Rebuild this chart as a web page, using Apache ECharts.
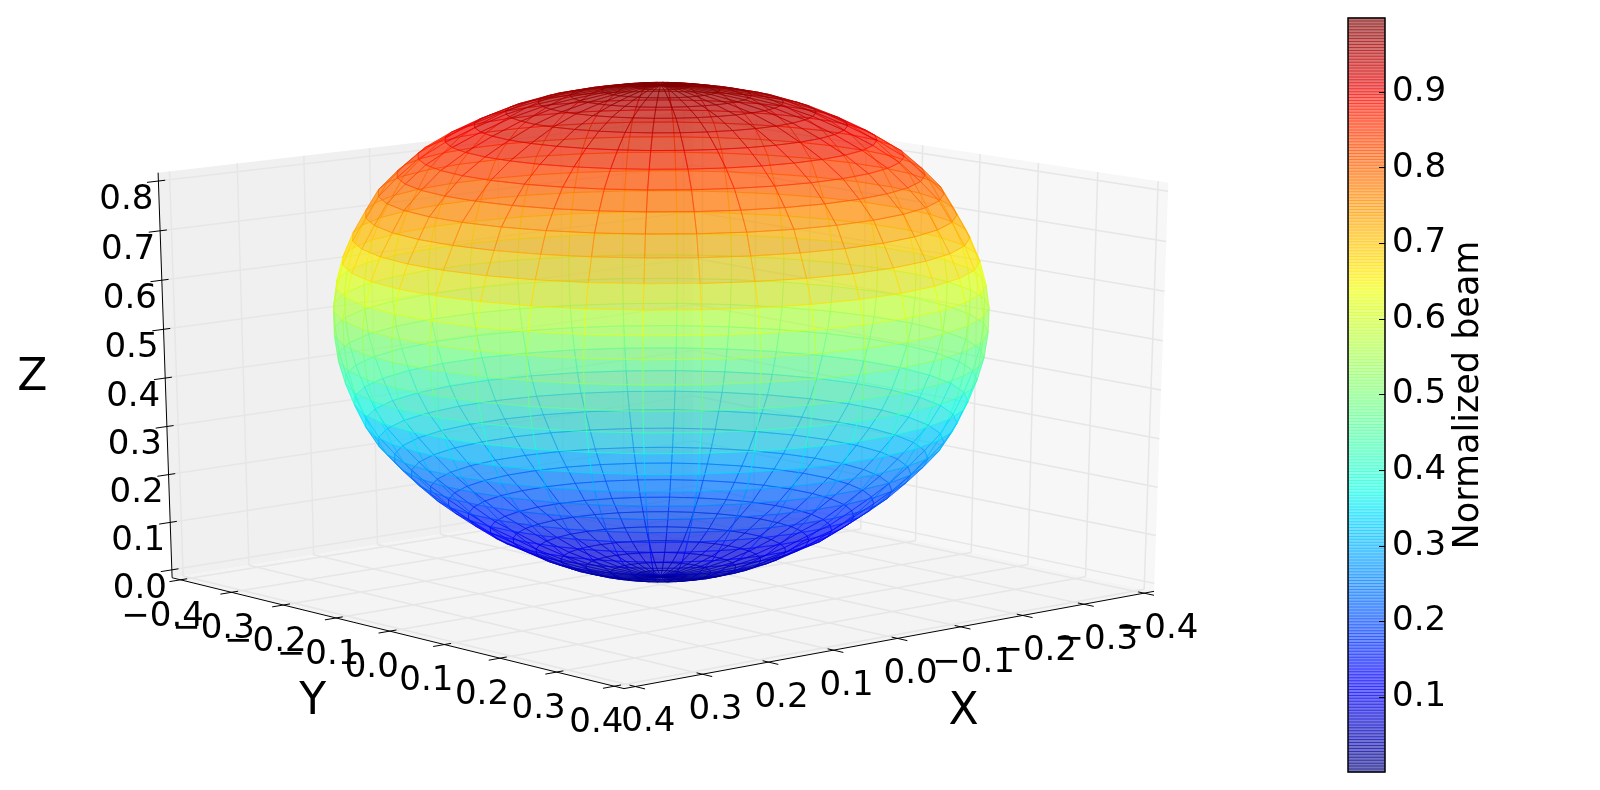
<!DOCTYPE html>
<html>
<head>
<meta charset="utf-8">
<style>
  html, body { margin: 0; padding: 0; background: #fff; }
  #main { width: 1600px; height: 790px; }
</style>
<script src="https://cdn.jsdelivr.net/npm/echarts@6/dist/echarts.min.js"></script>
</head>
<body>
<div id="main"></div>
<script>
// tick labels
const xTicks = [-0.4, -0.3, -0.2, -0.1, 0.0, 0.1, 0.2, 0.3, 0.4]
const yTicks = [-0.4, -0.3, -0.2, -0.1, 0.0, 0.1, 0.2, 0.3, 0.4]
const zTicks = [0.0, 0.1, 0.2, 0.3, 0.4, 0.5, 0.6, 0.7, 0.8]
const colorbarTicks = [0.1, 0.2, 0.3, 0.4, 0.5, 0.6, 0.7, 0.8, 0.9]

// surface rings, top pole to bottom pole
const ringZ = [1.0, 0.998, 0.99, 0.98, 0.967, 0.9475, 0.922, 0.894, 0.862, 0.826, 0.789, 0.747, 0.7015, 0.654, 0.6065, 0.561, 0.5115, 0.4596, 0.4143, 0.37, 0.325, 0.2854, 0.251, 0.218, 0.184, 0.157, 0.129, 0.1, 0.078, 0.0548, 0.0352, 0.0203, 0.0092, 0.0025, 0.0]
const ringR = [0, 0.0338, 0.0684, 0.1049, 0.1421, 0.18, 0.2167, 0.2511, 0.2828, 0.3077, 0.3299, 0.3453, 0.361, 0.3733, 0.381, 0.3851, 0.3846, 0.3805, 0.3729, 0.3628, 0.3503, 0.3354, 0.3168, 0.297, 0.2747, 0.2535, 0.2299, 0.2039, 0.1766, 0.1493, 0.1195, 0.0897, 0.0598, 0.0299, 0]
const meridianDeg = [6, 16, 26, 36, 46, 56, 66, 76, 86, 96, 106, 116, 126, 136, 146, 156, 166, 176, 186, 196, 206, 216, 226, 236, 246, 256, 266, 276, 286, 296, 306, 316, 326, 336, 346, 356]

// axis limits
const xLim = [-0.4167, 0.4167]
const yLim = [-0.4167, 0.4167]
const zLim = [-0.0167, 0.8167]
const colorbarLim = [0.001, 0.998]

// camera, same model as mplot3d
const ELEV = 16.5 * Math.PI / 180
const AZIM = 49 * Math.PI / 180
const DIST = 10
const FONT = '"DejaVu Sans"'

function project(x, y, z) {
  const cx = (x - xLim[0]) / (xLim[1] - xLim[0]) - 0.5
  const cy = (y - yLim[0]) / (yLim[1] - yLim[0]) - 0.5
  const cz = (z - zLim[0]) / (zLim[1] - zLim[0]) - 0.5
  const sa = Math.sin(AZIM), ca = Math.cos(AZIM), se = Math.sin(ELEV), ce = Math.cos(ELEV)
  const d = DIST - (ce * ca * cx + ce * sa * cy + se * cz)
  const u = (-sa * cx + ca * cy) / d
  const v = (-se * ca * cx - se * sa * cy + ce * cz) / d
  return [u, v, d]
}

// jet colormap
function ramp(pts, t) {
  for (let i = 1; i < pts.length; i++) {
    if (t <= pts[i][0]) {
      const a = pts[i - 1], b = pts[i]
      return a[1] + (b[1] - a[1]) * (t - a[0]) / (b[0] - a[0])
    }
  }
  return pts[pts.length - 1][1]
}
function jet(t, alpha) {
  const r = ramp([[0, 0], [0.35, 0], [0.66, 1], [0.89, 1], [1, 0.5]], t)
  const g = ramp([[0, 0], [0.125, 0], [0.375, 1], [0.64, 1], [0.91, 0], [1, 0]], t)
  const b = ramp([[0, 0.5], [0.11, 1], [0.34, 1], [0.65, 0], [1, 0]], t)
  return `rgba(${Math.round(r * 255)},${Math.round(g * 255)},${Math.round(b * 255)},${alpha})`
}

// surface cells, far ones first so they get painted over
const cells = []
for (let i = 0; i < ringZ.length - 1; i++) {
  for (let j = 0; j < meridianDeg.length; j++) {
    const a = meridianDeg[j] * Math.PI / 180
    const r = (ringR[i] + ringR[i + 1]) / 2, z = (ringZ[i] + ringZ[i + 1]) / 2
    cells.push([i, j, project(r * Math.cos(a + 0.087), r * Math.sin(a + 0.087), z)[2]])
  }
}
cells.sort((p, q) => q[2] - p[2])

const cbLevels = []
for (let i = 0; i < 256; i++) cbLevels.push(i)

function ringPoint(i, j) {
  const a = meridianDeg[j % meridianDeg.length] * Math.PI / 180
  return project(ringR[i] * Math.cos(a), ringR[i] * Math.sin(a), ringZ[i])
}

function polygon(api, pts, style) {
  return { type: 'polygon', shape: { points: pts.map(p => api.coord([p[0], p[1]])) }, style: style }
}
function line(api, p, q, stroke, width) {
  const a = api.coord([p[0], p[1]]), b = api.coord([q[0], q[1]])
  return { type: 'line', shape: { x1: a[0], y1: a[1], x2: b[0], y2: b[1] }, style: { stroke: stroke, lineWidth: width, fill: null } }
}

// the three panes behind the surface
function renderPanes(params, api) {
  const [x0, x1] = xLim, [y0, y1] = yLim, [z0, z1] = zLim
  const panes = [
    { pts: [[x1, y0, z0], [x0, y0, z0], [x0, y0, z1], [x1, y0, z1]], fill: '#f0f0f0' },
    { pts: [[x0, y0, z0], [x0, y1, z0], [x0, y1, z1], [x0, y0, z1]], fill: '#f7f7f7' },
    { pts: [[x0, y0, z0], [x1, y0, z0], [x1, y1, z0], [x0, y1, z0]], fill: '#f4f4f4' }
  ]
  const p = panes[params.dataIndex]
  return polygon(api, p.pts.map(q => project(q[0], q[1], q[2])), { fill: p.fill })
}

function renderGrid(params, api) {
  const [x0, x1] = xLim, [y0, y1] = yLim, [z0, z1] = zLim
  const c = '#e6e6e6', w = 1.5
  const out = []
  xTicks.forEach(t => {
    out.push(line(api, project(t, y0, z1), project(t, y0, z0), c, w))
    out.push(line(api, project(t, y0, z0), project(t, y1, z0), c, w))
  })
  yTicks.forEach(t => {
    out.push(line(api, project(x0, t, z1), project(x0, t, z0), c, w))
    out.push(line(api, project(x0, t, z0), project(x1, t, z0), c, w))
  })
  zTicks.forEach(t => {
    out.push(line(api, project(x1, y0, t), project(x0, y0, t), c, w))
    out.push(line(api, project(x0, y0, t), project(x0, y1, t), c, w))
  })
  return { type: 'group', children: out }
}

function renderAxes(params, api) {
  const [x0, x1] = xLim, [y0, y1] = yLim, [z0, z1] = zLim
  const k = '#000', out = []
  const tickOut = 0.02, tickIn = 0.012
  const dx = x1 - x0, dy = y1 - y0
  out.push(line(api, project(x1, y0, z0), project(x1, y0, z1), k, 1))
  out.push(line(api, project(x1, y0, z0), project(x1, y1, z0), k, 1))
  out.push(line(api, project(x1, y1, z0), project(x0, y1, z0), k, 1))
  zTicks.forEach(t => out.push(line(api, project(x1 + tickOut * dx, y0, t), project(x1 - tickIn * dx, y0, t), k, 1)))
  yTicks.forEach(t => out.push(line(api, project(x1 + tickOut * dx, t, z0), project(x1 - tickIn * dx, t, z0), k, 1)))
  xTicks.forEach(t => out.push(line(api, project(t, y1 + tickOut * dy, z0), project(t, y1 - tickIn * dy, z0), k, 1)))
  return { type: 'group', children: out }
}

function renderCell(params, api) {
  const i = api.value(0), j = api.value(1)
  const pts = [ringPoint(i, j), ringPoint(i, j + 1), ringPoint(i + 1, j + 1), ringPoint(i + 1, j)]
  const v = (ringZ[i] + ringZ[i + 1]) / 2
  return polygon(api, pts, { fill: jet(v, 0.46), stroke: jet(v, 0.55), lineWidth: 1 })
}

function tickText(api, p, s, dx, dy, size) {
  const a = api.coord([p[0], p[1]])
  return {
    type: 'text',
    style: { x: a[0] + dx, y: a[1] + dy, text: s, fill: '#000', font: `${size}px ${FONT}`, align: 'center', verticalAlign: 'middle' }
  }
}
function fmt(t) {
  return (t < 0 ? '\u2212' : '') + Math.abs(t).toFixed(1)
}

function renderLabels(params, api) {
  const [x0, x1] = xLim, [y0, y1] = yLim, [z0, z1] = zLim
  const out = []
  zTicks.forEach(t => out.push(tickText(api, project(x1, y0, t), fmt(t), -32, 19, 34)))
  yTicks.forEach(t => out.push(tickText(api, project(x1, t, z0), fmt(t), -18, 37, 34)))
  xTicks.forEach(t => out.push(tickText(api, project(t, y1, z0), fmt(t), 13, 36, 34)))
  out.push(tickText(api, project(x1, y0, (z0 + z1) / 2), 'Z', -133, 0, 44))
  out.push(tickText(api, project(x1, (y0 + y1) / 2, z0), 'Y', -77, 71, 44))
  out.push(tickText(api, project((x0 + x1) / 2, y1, z0), 'X', 66, 74, 44))
  return { type: 'group', children: out }
}

// colorbar bands overlap by a pixel, the overlap makes the dark stripes
function renderBand(params, api) {
  const n = cbLevels.length, lv = api.value(0)
  const span = colorbarLim[1] - colorbarLim[0]
  const lo = api.coord([0, colorbarLim[0] + span * lv / n])
  const hi = api.coord([1, colorbarLim[0] + span * (lv + 1) / n])
  return {
    type: 'rect',
    shape: { x: lo[0], y: hi[1] - 0.5, width: hi[0] - lo[0], height: lo[1] - hi[1] + 1 },
    style: { fill: jet(lv / (n - 1), 0.55) }
  }
}
function renderBarBorder(params, api) {
  const lo = api.coord([0, colorbarLim[0]]), hi = api.coord([1, colorbarLim[1]])
  return {
    type: 'rect',
    shape: { x: lo[0], y: hi[1], width: hi[0] - lo[0], height: lo[1] - hi[1] },
    style: { fill: null, stroke: '#000', lineWidth: 1.5 }
  }
}

const chart = echarts.init(document.getElementById('main'), null, { renderer: 'canvas' })

function view(render, data, z) {
  return { type: 'custom', coordinateSystem: 'cartesian2d', xAxisIndex: 0, yAxisIndex: 0, renderItem: render, data: data, silent: true, z: z, clip: false, progressive: 0 }
}

chart.setOption({
  animation: false,
  backgroundColor: '#fff',
  tooltip: { show: false },
  grid: [
    { left: 0, top: 0, width: 1600, height: 790 },
    { left: 1348, top: 18, width: 37, height: 754 }
  ],
  xAxis: [
    { type: 'value', gridIndex: 0, show: false, min: -0.09361, max: 0.13305 },
    { type: 'value', gridIndex: 1, show: false, min: 0, max: 1 }
  ],
  yAxis: [
    { type: 'value', gridIndex: 0, show: false, min: -0.09571, max: 0.09052 },
    {
      type: 'value', gridIndex: 1, position: 'right', z: 10,
      min: colorbarLim[0], max: colorbarLim[1],
      splitLine: { show: false },
      axisLine: { show: false, onZero: false },
      axisTick: { inside: true, length: 6, customValues: colorbarTicks, lineStyle: { color: '#000', width: 1 } },
      axisLabel: { customValues: colorbarTicks, margin: 7, padding: [6, 0, 0, 0], color: '#000', fontSize: 34, fontFamily: FONT, formatter: v => v.toFixed(1) },
      name: 'Normalized beam',
      nameLocation: 'middle',
      nameRotate: 90,
      nameGap: 66,
      nameTextStyle: { color: '#000', fontSize: 35, fontFamily: FONT }
    }
  ],
  series: [
    view(renderPanes, [[0], [1], [2]], 1),
    view(renderGrid, [[0]], 2),
    view(renderAxes, [[0]], 3),
    view(renderCell, cells, 4),
    view(renderLabels, [[0]], 5),
    { type: 'custom', coordinateSystem: 'cartesian2d', xAxisIndex: 1, yAxisIndex: 1, renderItem: renderBand, data: cbLevels.map(v => [v]), silent: true, z: 4, clip: false, progressive: 0 },
    { type: 'custom', coordinateSystem: 'cartesian2d', xAxisIndex: 1, yAxisIndex: 1, renderItem: renderBarBorder, data: [[0]], silent: true, z: 5, clip: false }
  ]
})
</script>
</body>
</html>
